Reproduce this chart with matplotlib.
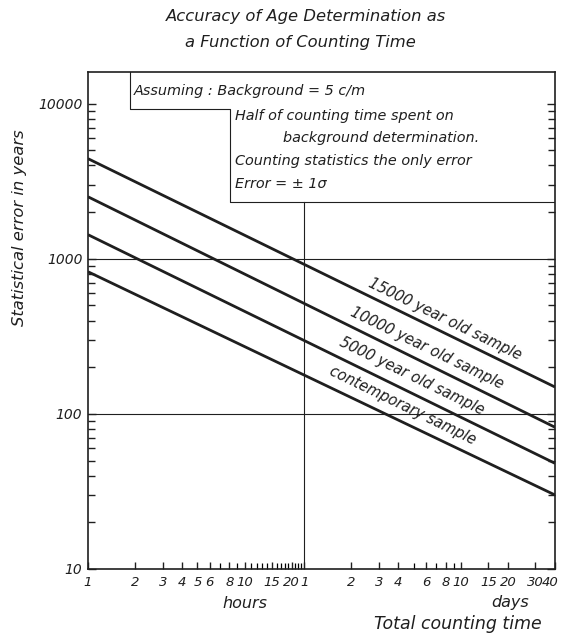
import matplotlib
matplotlib.use("Agg")
import matplotlib.pyplot as plt
import matplotlib.transforms as mtransforms
from matplotlib.lines import Line2D

# ---------------- data ----------------
time_hours = [1, 960]                      # 1 hour .. 40 days
err_15000 = [4420, 149]
err_10000 = [2510, 82]
err_5000 = [1430, 48]
err_contemporary = [825, 30]
series_labels = ["15000 year old sample", "10000 year old sample",
                 "5000 year old sample", "contemporary sample"]

x_tick_hours = [1, 2, 3, 4, 5, 6, 8, 10, 15, 20, 24, 48, 72, 96, 144, 192,
                240, 360, 480, 720, 960]
x_tick_labels = ["1", "2", "3", "4", "5", "6", "8", "10", "15", "20", "1",
                 "2", "3", "4", "6", "8", "10", "15", "20", "30", "40"]
x_minor_hours = [7, 9, 11, 12, 13, 14, 16, 17, 18, 19, 21, 22, 23,
                 120, 168, 216]
y_ticks = [10, 100, 1000, 10000]
y_tick_labels = ["10", "100", "1000", "10000"]

title_lines = ["Accuracy of Age Determination as", "a Function of Counting Time"]
note_lines = ["Assuming : Background = 5 c/m",
              "Half of counting time spent on",
              "background determination.",
              "Counting statistics the only error",
              "Error = \u00b1 1\u03c3"]

# ---------------- figure ----------------
W, H = 561, 635
fig = plt.figure(figsize=(W / 100, H / 100), dpi=100)
fig.patch.set_facecolor("white")

L, R, T, B = 88, 555, 72, 569
ax = fig.add_axes([L / W, (H - B) / H, (R - L) / W, (B - T) / H])
ax.set_xscale("log")
ax.set_yscale("log")
ax.set_xlim(1, 960)
ax.set_ylim(10, 16000)

ink = "#1f1f1f"
font = dict(family="DejaVu Sans", style="italic", color=ink)

for s in ax.spines.values():
    s.set_linewidth(1.2)
    s.set_color(ink)

for vals in (err_15000, err_10000, err_5000, err_contemporary):
    ax.plot(time_hours, vals, color=ink, lw=2.0, solid_capstyle="butt")

# grid lines
ax.axhline(100, color=ink, lw=0.8)
ax.axhline(1000, color=ink, lw=0.8)


def px2ax(px, py):
    return (px - L) / (R - L), (B - py) / (B - T)

# vertical 1-day line (from box bottom down)
ax.plot([24, 24], [10, 10 ** (1 + (B - 202) / 155.3)], color=ink, lw=0.8)

# annotation box outline
pts = [px2ax(130, 72), px2ax(130, 109), px2ax(230, 109), px2ax(230, 202), px2ax(R, 202)]
ax.add_line(Line2D([p[0] for p in pts], [p[1] for p in pts], transform=ax.transAxes,
                   color=ink, lw=0.8))

# ticks
ax.set_xticks(x_tick_hours)
ax.set_xticklabels(x_tick_labels)
ax.set_xticks(x_minor_hours, minor=True)
ax.xaxis.set_minor_formatter(matplotlib.ticker.NullFormatter())
ax.tick_params(axis="x", which="major", direction="in", length=5, width=1,
               labelsize=9.5, pad=5, colors=ink)
ax.tick_params(axis="x", which="minor", direction="in", length=4, width=0.9)
xl = ax.get_xticklabels()
for lbl in xl:
    lbl.set_fontstyle("italic")
xl[-1].set_ha("right")
xl[-1].set_transform(xl[-1].get_transform() +
                     mtransforms.ScaledTranslation(4 / 100, 0, fig.dpi_scale_trans))

ax.set_yticks(y_ticks)
ax.set_yticklabels(y_tick_labels)
ax.yaxis.set_minor_locator(matplotlib.ticker.LogLocator(base=10, subs=range(2, 10)))
ax.yaxis.set_minor_formatter(matplotlib.ticker.NullFormatter())
ax.tick_params(axis="y", which="both", direction="in", left=True, right=True,
               width=1.0, colors=ink)
ax.tick_params(axis="y", which="major", length=6, labelsize=10, pad=4)
ax.tick_params(axis="y", which="minor", length=5)
for lbl in ax.get_yticklabels():
    lbl.set_fontstyle("italic")

# title
fig.text(306 / W, 1 - 17 / H, title_lines[0], ha="center", va="center", fontsize=11.8, **font)
fig.text(300 / W, 1 - 43 / H, title_lines[1], ha="center", va="center", fontsize=11.8, **font)

# notes in box
note_pos = [(134, 91), (235, 116), (283, 138), (235, 161), (235, 184)]
for (px, py), t in zip(note_pos, note_lines):
    fig.text(px / W, 1 - py / H, t, ha="left", va="center", fontsize=10.4, **font)

# axis labels
fig.text(20 / W, 1 - 228 / H, "Statistical error in years", rotation=90,
         ha="center", va="center", fontsize=11.8, **font)
fig.text(245 / W, 1 - 603 / H, "hours", ha="center", va="center", fontsize=11.5, **font)
fig.text(510 / W, 1 - 602 / H, "days", ha="center", va="center", fontsize=11.5, **font)
fig.text(458 / W, 1 - 624 / H, "Total counting time", ha="center", va="center",
         fontsize=12.5, **font)

# series labels along lines
label_xy = [(189, 410), (146, 267), (117, 176), (102, 114)]
for (lx, ly), t in zip(label_xy, series_labels):
    ax.text(lx, ly, t, rotation=-26, rotation_mode="anchor", ha="center", va="center",
            fontsize=10.5, **font)

fig.savefig("out.png", dpi=100, facecolor="white")
